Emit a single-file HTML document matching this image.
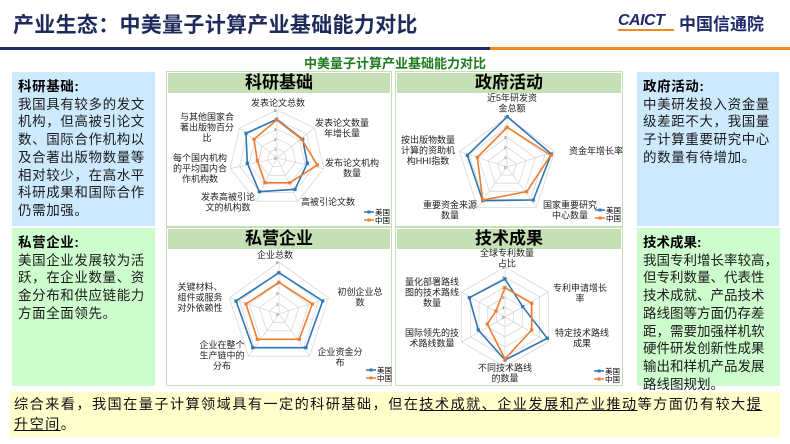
<!DOCTYPE html>
<html><head><meta charset="utf-8">
<style>
*{margin:0;padding:0;box-sizing:border-box}
body{width:790px;height:444px;background:#fff;font-family:"Liberation Sans","Noto Sans CJK SC",sans-serif;position:relative;overflow:hidden}
.abs{position:absolute}
.title{left:13px;top:9px;font-size:21px;font-weight:bold;color:#1f2a5c;letter-spacing:0.3px}
.panel{position:absolute;font-size:13.5px;line-height:17.7px;color:#1a1a1a;padding:6px 6px;letter-spacing:0.6px}
.panel b{display:block;color:#000}
.box{position:absolute;border:1.5px solid #c5e0b4;background:#fff}
.box .hd{height:20px;background:#c5e0b4;text-align:center;font-size:17px;font-weight:bold;line-height:20px;color:#000;margin:1px}
</style></head><body>
<div class="abs title">产业生态：中美量子计算产业基础能力对比</div>
<div class="abs" style="left:618px;top:12px;font-size:16px;font-weight:bold;font-style:italic;color:#1f2a6c;letter-spacing:-0.5px">CAICT</div>
<div class="abs" style="left:618px;top:29px;width:56px;height:2px;background:#f08a1c"></div>
<div class="abs" style="left:679px;top:10px;font-size:17px;font-weight:bold;color:#1f2a6c">中国信通院</div>
<div class="abs" style="left:0;top:47px;width:490px;height:3px;background:#1f2a6c"></div>
<div class="abs" style="left:490px;top:47px;width:300px;height:3px;background:#f08a1c"></div>
<div class="abs" style="left:0;width:790px;top:53px;text-align:center;font-size:13px;font-weight:bold;color:#1e7a1e">中美量子计算产业基础能力对比</div>

<div class="panel" style="left:12px;top:72px;width:143px;height:154px;background:#cde9fd"><b>科研基础:</b>我国具有较多的发文机构，但高被引论文数、国际合作机构以及合著出版物数量等相对较少，在高水平科研成果和国际合作仍需加强。</div>
<div class="panel" style="left:12px;top:228px;width:143px;height:158px;background:#cdfccd"><b>私营企业:</b>美国企业发展较为活跃，在企业数量、资金分布和供应链能力方面全面领先。</div>
<div class="panel" style="left:637px;top:72px;width:142px;height:154px;background:#cde9fd"><b>政府活动:</b>中美研发投入资金量级差距不大，我国量子计算重要研究中心的数量有待增加。</div>
<div class="panel" style="left:637px;top:228px;width:143px;height:158px;background:#cdfccd;letter-spacing:0;padding-right:2px"><b>技术成果:</b>我国专利增长率较高，<br>但专利数量、代表性<br>技术成就、产品技术<br>路线图等方面仍存差<br>距，需要加强样机软<br>硬件研发创新性成果<br>输出和样机产品发展<br>路线图规划。</div>

<div class="box" style="left:166px;top:71px;width:226px;height:156px"><div class="hd">科研基础</div></div>
<div class="box" style="left:395px;top:71px;width:228px;height:156px"><div class="hd">政府活动</div></div>
<div class="box" style="left:166px;top:227px;width:226px;height:159px"><div class="hd">私营企业</div></div>
<div class="box" style="left:395px;top:227px;width:228px;height:159px"><div class="hd">技术成果</div></div>

<svg id="s" class="abs" style="left:0;top:0" width="790" height="444" font-family="Liberation Sans, Noto Sans CJK SC, sans-serif"></svg>

<div class="abs" style="left:10px;top:392px;width:770px;height:45px;background:#ffffcc;padding:3px 4px;font-size:14.2px;line-height:20px;color:#111;letter-spacing:1.4px;white-space:nowrap">综合来看，我国在量子计算领域具有一定的科研基础，但在<u>技术成就、企业发展和产业推动</u>等方面仍有较大<u>提<br>升空间</u>。</div>

<script>
var s=document.getElementById('s'),h='';
function grid(cx,cy,r,n){for(var k=1;k<=5;k++){var p=[];for(var i=0;i<n;i++){var a=2*Math.PI*i/n;p.push((cx+r*k/5*Math.sin(a)).toFixed(1)+','+(cy-r*k/5*Math.cos(a)).toFixed(1));}
h+='<polygon points="'+p.join(' ')+'" fill="none" stroke="#d9d9d9" stroke-width="0.8"/>';}
for(var i=0;i<n;i++){var a=2*Math.PI*i/n;h+='<line x1="'+cx+'" y1="'+cy+'" x2="'+(cx+r*Math.sin(a))+'" y2="'+(cy-r*Math.cos(a))+'" stroke="#d9d9d9" stroke-width="0.8"/>';}
for(var k=0;k<=5;k++)h+='<text x="'+(cx-3)+'" y="'+(cy-r*k/5+2)+'" font-size="4.5" fill="#666">'+k+'</text>';}
function poly(ox,oy,pts,c){var p=pts.map(function(q){return (ox+q[0]/3).toFixed(1)+','+(oy+q[1]/3).toFixed(1)});
h+='<polygon points="'+p.join(' ')+'" fill="none" stroke="'+c+'" stroke-width="1.6"/>';
p.forEach(function(q){var a=q.split(',');h+='<rect x="'+(a[0]-1.6)+'" y="'+(a[1]-1.6)+'" width="3.2" height="3.2" fill="'+c+'"/>';});}
function lab(x,y,lines){lines.forEach(function(t,i){h+='<text x="'+x+'" y="'+(y+i*10.5+3)+'" font-size="9" text-anchor="middle" fill="#222">'+t+'</text>';});}
function leg(x,y){h+='<line x1="'+(x-16)+'" y1="'+y+'" x2="'+(x-6)+'" y2="'+y+'" stroke="#2e75b6" stroke-width="1.5"/><rect x="'+(x-12.5)+'" y="'+(y-1.5)+'" width="3" height="3" fill="#2e75b6"/><text x="'+(x-5)+'" y="'+(y+3)+'" font-size="7.5">美国</text>';
y+=8;h+='<line x1="'+(x-16)+'" y1="'+y+'" x2="'+(x-6)+'" y2="'+y+'" stroke="#ed7d31" stroke-width="1.5"/><rect x="'+(x-12.5)+'" y="'+(y-1.5)+'" width="3" height="3" fill="#ed7d31"/><text x="'+(x-5)+'" y="'+(y+3)+'" font-size="7.5">中国</text>';}
var B='#2e75b6',O='#ed7d31';
grid(277,158,48,7);
poly(160,50,[[350,208],[428,268],[442,340],[405,418],[298,425],[262,340],[258,250]],B);
poly(160,50,[[350,210],[425,268],[472,345],[390,398],[315,398],[292,332],[282,268]],O);
lab(278,103,['发表论文总数']);lab(342,123,['发表论文数量','年增长量']);lab(352,163,['发布论文机构','数量']);
lab(328,202,['高被引论文数']);lab(228,197,['发表高被引论','文的机构数']);lab(200,158,['每个国内机构','的平均国内合','作机构数']);lab(207,117,['与其他国家合','著出版物百分','比']);
leg(380,212);
grid(507,167,50,5);
poly(390,50,[[352,200],[484,312],[430,450],[278,452],[232,316]],B);
poly(390,50,[[352,232],[482,316],[410,425],[278,450],[262,322]],O);
lab(512,98,['近5年研发资','金总额']);lab(596,151,['资金年增长率']);lab(570,205,['国家重要研究','中心数量']);lab(450,205,['重要资金来源','数量']);lab(428,140,['按出版物数量','计算的资助机','构HHI指数']);
leg(611,210);
grid(279,314,52,5);
poly(160,225,[[357,143],[488,228],[438,368],[278,368],[228,228]],B);
poly(160,225,[[357,172],[457,237],[418,343],[292,343],[258,237]],O);
lab(275,255,['企业总数']);lab(360,292,['初创企业总','数']);lab(340,352,['企业资金分','布']);lab(222,345,['企业在整个','生产链中的','分布']);lab(200,287,['关键材料、','组件或服务','对外依赖性']);
leg(382,370);
grid(505,317,50,6);
poly(390,225,[[345,162],[398,245],[472,340],[345,405],[265,315],[238,218]],B);
poly(390,225,[[345,188],[425,235],[425,315],[345,402],[292,297],[318,258]],O);
lab(507,253,['全球专利数量','占比']);lab(580,288,['专利申请增长','率']);lab(582,333,['特定技术路线','成果']);lab(505,368,['不同技术路线','的数量']);lab(432,333,['国际领先的技','术路线数量']);lab(432,282,['量化部署路线','图的技术路线','数量']);
leg(610,371);
s.innerHTML=h;
</script>
</body></html>
